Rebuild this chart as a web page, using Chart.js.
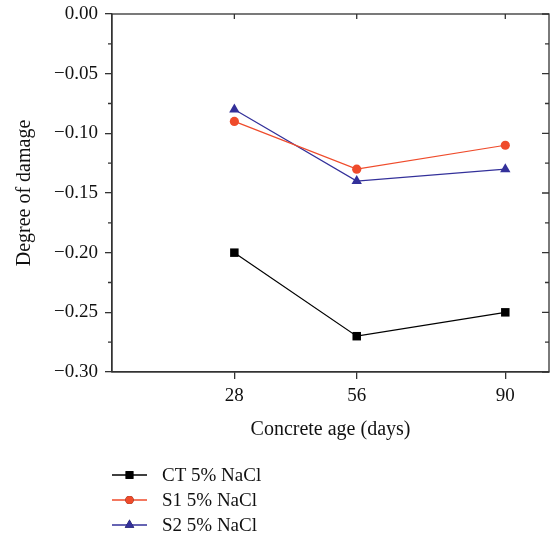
<!DOCTYPE html>
<html>
<head>
<meta charset="utf-8">
<script src="https://cdn.jsdelivr.net/npm/chart.js@4"></script>
<style>
  html, body { margin: 0; padding: 0; background: #fff; }
  #wrap { width: 555px; height: 540px; }
</style>
</head>
<body>
<div id="wrap"><canvas id="damageChart" width="555" height="540"></canvas></div>
<script>
// concrete age (days)
const ages = [28, 56, 90];
const seriesNames = ['CT 5% NaCl', 'S1 5% NaCl', 'S2 5% NaCl'];
const ctValues = [-0.20, -0.27, -0.25];
const s1Values = [-0.09, -0.13, -0.11];
const s2Values = [-0.08, -0.14, -0.13];
const yTicks = [0.00, -0.05, -0.10, -0.15, -0.20, -0.25, -0.30];

const colors = ['#000000', '#ef4b2b', '#33309a'];
const markers = ['rect', 'circle', 'triangle'];
const markerSize = [6, 4.6, 6];
const font = '"Liberation Serif", "DejaVu Serif", serif';
const axisColor = '#333333';

function toPoints(vals) {
    return ages.map(function(a, i) { return { x: a, y: vals[i] }; });
}

const allValues = [ctValues, s1Values, s2Values];
const datasets = allValues.map(function(vals, i) {
    return {
        label: seriesNames[i],
        data: toPoints(vals),
        borderColor: colors[i],
        backgroundColor: colors[i],
        borderWidth: 1.2,
        pointStyle: markers[i],
        pointRadius: markerSize[i],
        pointBorderWidth: 0,
        tension: 0
    };
});

// frame with mirrored ticks on top and right, minor ticks on y
const framePlugin = {
    id: 'frame',
    afterDraw: function(chart) {
        const c = chart.ctx;
        const a = chart.chartArea;
        const xs = chart.scales.x, ys = chart.scales.y;
        c.save();
        c.strokeStyle = axisColor;
        c.lineWidth = 1.3;
        c.strokeRect(a.left, a.top, a.right - a.left, a.bottom - a.top);
        c.beginPath();
        ages.forEach(function(d) {
            const px = xs.getPixelForValue(d);
            c.moveTo(px, a.top); c.lineTo(px, a.top + 5);
        });
        yTicks.forEach(function(v) {
            const py = ys.getPixelForValue(v);
            c.moveTo(a.right, py); c.lineTo(a.right - 7, py);
        });
        for (let k = 0; k < yTicks.length - 1; k++) {
            const py = ys.getPixelForValue((yTicks[k] + yTicks[k + 1]) / 2);
            c.moveTo(a.left, py); c.lineTo(a.left - 4, py);
            c.moveTo(a.right, py); c.lineTo(a.right - 4, py);
        }
        c.stroke();
        c.restore();
    }
};

// vertical legend below the axis title
const legendPlugin = {
    id: 'stackLegend',
    afterDraw: function(chart) {
        const c = chart.ctx;
        const x0 = 112, lineLen = 35, rowH = 25, y0 = 475;
        c.save();
        c.font = '19px ' + font;
        c.textBaseline = 'middle';
        chart.data.datasets.forEach(function(ds, i) {
            const y = y0 + i * rowH;
            c.strokeStyle = ds.borderColor;
            c.lineWidth = 1.3;
            c.beginPath();
            c.moveTo(x0, y); c.lineTo(x0 + lineLen, y);
            c.stroke();
            Chart.helpers.drawPoint(c, {
                pointStyle: ds.pointStyle,
                radius: ds.pointRadius - 0.5,
                borderWidth: 0,
                rotation: 0
            }, x0 + lineLen / 2, y);
            c.fillStyle = ds.backgroundColor;
            c.fill();
            c.fillStyle = '#111';
            c.fillText(ds.label, x0 + 50, y + 1);
        });
        c.restore();
    }
};

const ctx = document.getElementById('damageChart').getContext('2d');
const damageChart = new Chart(ctx, {
    type: 'line',
    data: { datasets: datasets },
    options: {
        responsive: false,
        animation: false,
        layout: { padding: { top: 14, right: 3, bottom: 88, left: 0 } },
        plugins: {
            legend: { display: false },
            tooltip: { enabled: false }
        },
        scales: {
            x: {
                type: 'linear',
                min: 0,
                max: 100,
                afterBuildTicks: function(scale) {
                    scale.ticks = ages.map(function(v) { return { value: v }; });
                },
                afterFit: function(scale) { scale.height = 80; },
                grid: { drawOnChartArea: false, drawTicks: true, tickLength: 7, color: axisColor, lineWidth: 1.3 },
                border: { display: true, color: axisColor, width: 1.3 },
                ticks: { color: '#111', font: { family: font, size: 19 }, padding: 6, maxRotation: 0 },
                title: { display: true, text: 'Concrete age (days)', color: '#111', font: { family: font, size: 20 }, padding: { top: 0, bottom: 10 } }
            },
            y: {
                type: 'linear',
                min: -0.30,
                max: 0.00,
                afterBuildTicks: function(scale) {
                    scale.ticks = yTicks.map(function(v) { return { value: v }; });
                },
                afterFit: function(scale) {
                    scale.width = 112;
                    scale.paddingTop = 0;
                    scale.paddingBottom = 0;
                },
                grid: { drawOnChartArea: false, drawTicks: true, tickLength: 7, color: axisColor, lineWidth: 1.3 },
                border: { display: true, color: axisColor, width: 1.3 },
                ticks: {
                    color: '#111',
                    font: { family: font, size: 19 },
                    padding: 7,
                    callback: function(v) {
                        const s = Math.abs(v).toFixed(2);
                        return v < -1e-9 ? '\u2212' + s : s;
                    }
                },
                title: { display: true, text: 'Degree of damage', color: '#111', font: { family: font, size: 20 }, padding: { top: 13, bottom: 0 } }
            }
        }
    },
    plugins: [framePlugin, legendPlugin]
});
</script>
</body>
</html>
